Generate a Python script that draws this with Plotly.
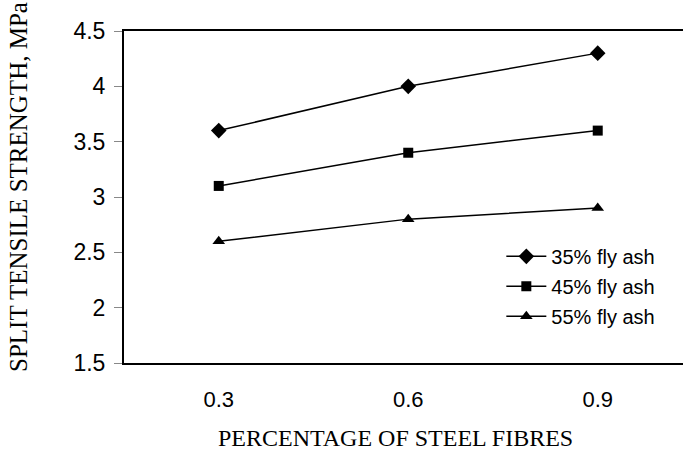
import plotly.graph_objects as go

# Steel fibre content (%) on the x axis
fibres = ["0.3", "0.6", "0.9"]

# Split tensile strength (MPa) for each fly ash replacement level
fly35 = [3.6, 4.0, 4.3]
fly45 = [3.1, 3.4, 3.6]
fly55 = [2.6, 2.8, 2.9]

series = [
    ("35% fly ash", fly35, "diamond", 12),
    ("45% fly ash", fly45, "square", 10),
    ("55% fly ash", fly55, "triangle-up", 11),
]

fig = go.Figure()
for i, (name, vals, sym, size) in enumerate(series):
    fig.add_trace(go.Scatter(
        x=fibres, y=vals, name=name, mode="lines+markers",
        legendgroup=f"g{i}",
        line=dict(color="black", width=1.5),
        marker=dict(symbol=sym, size=size, color="black"),
    ))

W, H = 683, 461
L, R, T, B = 124, 0, 31, 98
PW, PH = W - L - R, H - T - B

serif = "Liberation Serif, Times New Roman, serif"
sans = "Arial, Liberation Sans, sans-serif"

fig.update_layout(
    width=W, height=H,
    margin=dict(l=L, r=R, t=T, b=B),
    paper_bgcolor="white", plot_bgcolor="white",
    font=dict(family=sans, color="black"),
    showlegend=True,
    legend=dict(
        x=0.675, y=0.38, xanchor="left", yanchor="top",
        font=dict(size=20, family=sans),
        bgcolor="rgba(0,0,0,0)", itemwidth=40,
        tracegroupgap=1, traceorder="grouped",
    ),
    xaxis=dict(
        type="category", range=[-0.5, 2.45],
        showline=True, linecolor="black", linewidth=2, mirror=True,
        showgrid=False, zeroline=False, ticks="",
        tickfont=dict(size=22), ticklabelstandoff=16,
    ),
    yaxis=dict(
        range=[1.5, 4.5], dtick=0.5,
        showline=True, linecolor="black", linewidth=2,
        showgrid=False, zeroline=False,
        ticks="outside", ticklen=8, tickcolor="#888", tickwidth=1,
        tickfont=dict(size=23), ticklabelstandoff=4,
    ),
    annotations=[
        dict(text="SPLIT TENSILE STRENGTH, MPa", textangle=-90,
             xref="paper", yref="paper", x=(18 - L) / PW, y=(H - B - 187) / PH,
             xanchor="center", yanchor="middle", showarrow=False,
             font=dict(family=serif, size=25)),
        dict(text="PERCENTAGE OF STEEL FIBRES",
             xref="paper", yref="paper", x=(395 - L) / PW, y=-(438 - (H - B)) / PH,
             xanchor="center", yanchor="middle", showarrow=False,
             font=dict(family=serif, size=24)),
    ],
)

fig.write_html("out.html")
